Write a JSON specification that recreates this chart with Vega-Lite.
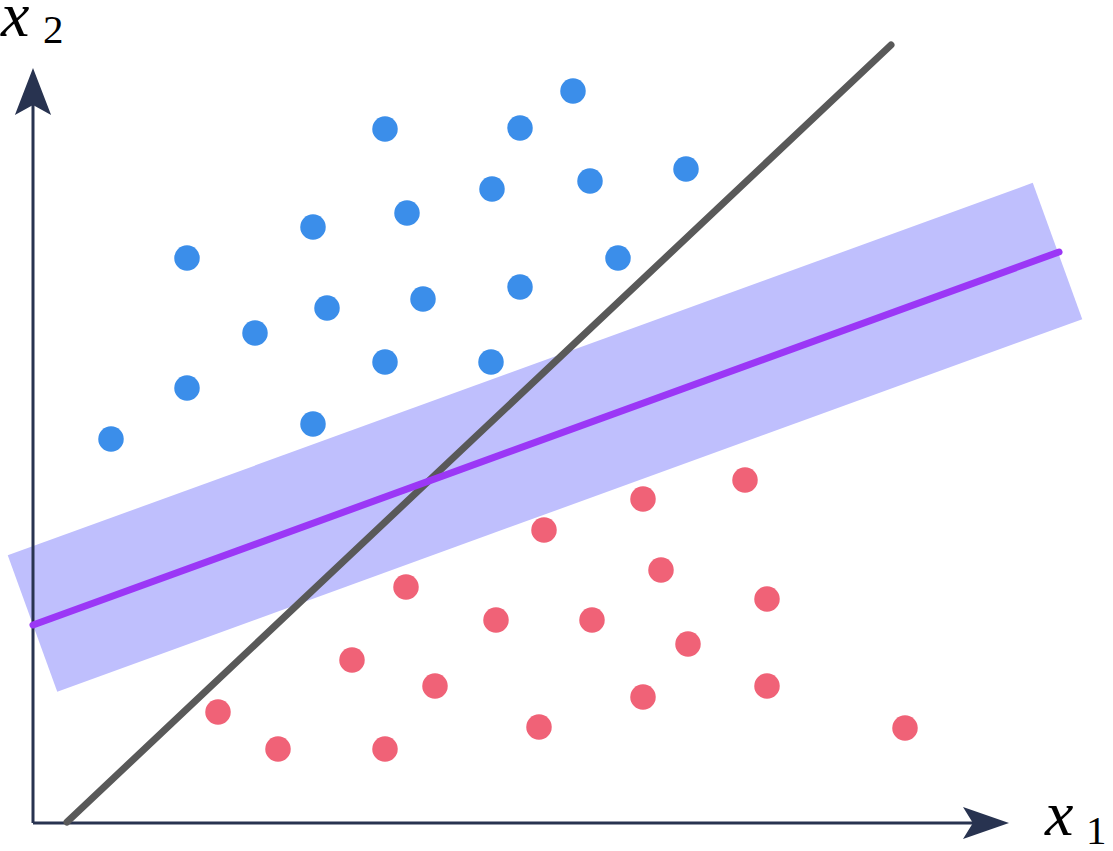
{
  "$schema": "https://vega.github.io/schema/vega-lite/v6.json",
  "width": 1113,
  "height": 851,
  "autosize": {"type": "none"},
  "padding": 0,
  "background": "white",
  "config": {"view": {"stroke": null}},
  "encoding": {
    "x": {"field": "x", "type": "quantitative", "scale": {"domain": [-33, 1080], "nice": false, "zero": false}, "axis": null},
    "y": {"field": "y", "type": "quantitative", "scale": {"domain": [-28, 823], "nice": false, "zero": false}, "axis": null}
  },
  "layer": [
    {
      "data": {"values": [{"x": -0.5, "y": 199.5}, {"x": 1024.5, "y": 572}]},
      "mark": {"type": "line", "color": "#bfbffd", "strokeWidth": 145, "strokeCap": "butt"}
    },
    {
      "data": {"values": [{"x": 0, "y": 0}, {"x": 0, "y": 725}]},
      "mark": {"type": "line", "color": "#283350", "strokeWidth": 3}
    },
    {
      "data": {"values": [{"x": 0, "y": 0}, {"x": 955, "y": 0}]},
      "mark": {"type": "line", "color": "#283350", "strokeWidth": 3}
    },
    {
      "data": {"values": [{"x": 34, "y": 1}, {"x": 858, "y": 778}]},
      "mark": {"type": "line", "color": "#595959", "strokeWidth": 7, "strokeCap": "round"}
    },
    {
      "data": {"values": [{"x": 0, "y": 198}, {"x": 1026, "y": 571}]},
      "mark": {"type": "line", "color": "#9b37f6", "strokeWidth": 7, "strokeCap": "round"}
    },
    {
      "data": {"values": [
        {"x": 540, "y": 732}, {"x": 352, "y": 694}, {"x": 487, "y": 695}, {"x": 653, "y": 654},
        {"x": 557, "y": 642}, {"x": 459, "y": 634}, {"x": 374, "y": 610}, {"x": 280, "y": 596},
        {"x": 154, "y": 565}, {"x": 585, "y": 565}, {"x": 487, "y": 536}, {"x": 390, "y": 524},
        {"x": 294, "y": 515}, {"x": 222, "y": 490}, {"x": 352, "y": 461}, {"x": 458, "y": 461},
        {"x": 154, "y": 435}, {"x": 280, "y": 399}, {"x": 78, "y": 384}
      ]},
      "mark": {"type": "point", "shape": "circle", "filled": true, "opacity": 1, "color": "#3b8eea", "size": 650, "strokeWidth": 0}
    },
    {
      "data": {"values": [
        {"x": 712, "y": 343}, {"x": 610, "y": 324}, {"x": 511, "y": 293}, {"x": 628, "y": 253},
        {"x": 373, "y": 236}, {"x": 734, "y": 224}, {"x": 463, "y": 203}, {"x": 559, "y": 203},
        {"x": 655, "y": 179}, {"x": 319, "y": 163}, {"x": 402, "y": 137}, {"x": 734, "y": 137},
        {"x": 610, "y": 126}, {"x": 185, "y": 111}, {"x": 506, "y": 96}, {"x": 872, "y": 95},
        {"x": 245, "y": 74}, {"x": 352, "y": 74}
      ]},
      "mark": {"type": "point", "shape": "circle", "filled": true, "opacity": 1, "color": "#f06277", "size": 650, "strokeWidth": 0}
    },
    {
      "data": {"values": [{"x": 0, "y": 731.5}]},
      "mark": {"type": "point", "shape": "M0,-1L0.77,1L0,0.57L-0.77,1Z", "filled": true, "opacity": 1, "color": "#283350", "size": 2209, "strokeWidth": 0}
    },
    {
      "data": {"values": [{"x": 953, "y": 0}]},
      "mark": {"type": "point", "shape": "M0,-1L0.7,1L0,0.57L-0.7,1Z", "angle": 90, "filled": true, "opacity": 1, "color": "#283350", "size": 2116, "strokeWidth": 0}
    },
    {
      "data": {"values": [{"x": -32, "y": 787, "t": "x"}, {"x": 1012, "y": -12, "t": "x"}]},
      "mark": {"type": "text", "align": "left", "baseline": "alphabetic", "font": "Liberation Serif", "fontStyle": "italic", "fontSize": 64, "color": "#000000"},
      "encoding": {"text": {"field": "t", "type": "nominal"}}
    },
    {
      "data": {"values": [{"x": 10, "y": 780, "t": "2"}, {"x": 1053, "y": -21, "t": "1"}]},
      "mark": {"type": "text", "align": "left", "baseline": "alphabetic", "font": "Liberation Serif", "fontSize": 41, "color": "#000000"},
      "encoding": {"text": {"field": "t", "type": "nominal"}}
    }
  ]
}
